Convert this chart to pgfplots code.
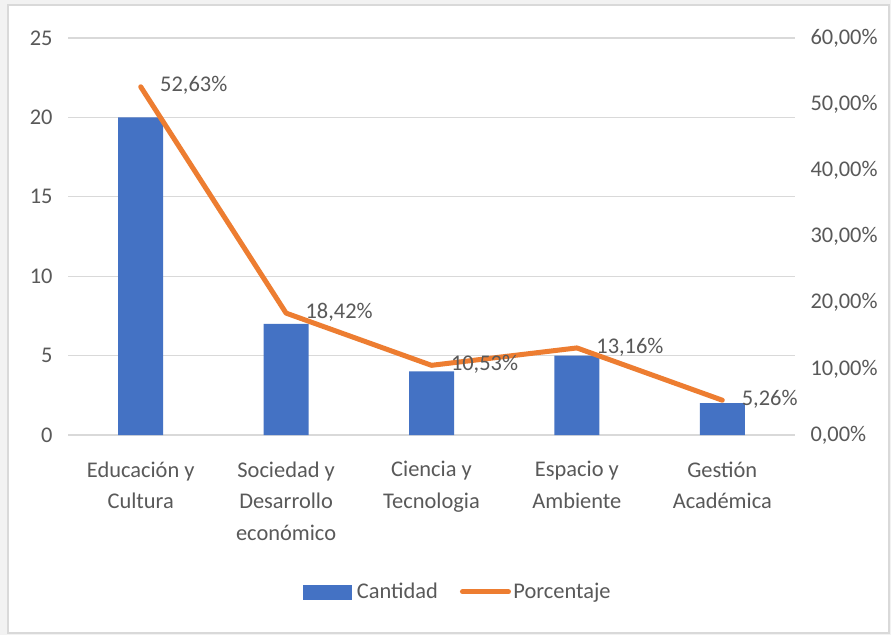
\documentclass[border=0pt]{standalone}
\usepackage{fontspec}
\setmainfont{Carlito}
\usepackage{pgfplots}
\pgfplotsset{compat=1.18}
\definecolor{barblue}{HTML}{4472C4}
\definecolor{lineorange}{HTML}{ED7D31}
\definecolor{txtgray}{HTML}{595959}
\definecolor{gridgray}{HTML}{D9D9D9}
\newcommand{\lbl}{\fontsize{22.5}{32}\selectfont}
\begin{document}
\begin{tikzpicture}
\path[use as bounding box] (-68bp,-200bp) rectangle (823bp,435bp);
\fill[black!5] (-68bp,-200bp) rectangle (823bp,435bp);
\filldraw[fill=white, draw=gridgray, line width=1.5bp] (-60bp,-198bp) rectangle (821bp,430bp);
\begin{axis}[
  at={(0,0)}, anchor=south west,
  scale only axis, width=727bp, height=397bp,
  xmin=-0.5, xmax=4.5, ymin=0, ymax=25,
  ytick={0,5,...,25},
  ymajorgrids, grid style={gridgray, line width=1.3bp},
  axis line style={draw=none}, tick style={draw=none}, major tick length=0pt,
  xtick={0,1,2,3,4},
  xticklabels={{Educación y\\Cultura},{Sociedad y\\Desarrollo\\económico},{Ciencia y\\Tecnologia},{Espacio y\\Ambiente},{Gestión\\Académica}},
  xticklabel style={align=center, text=txtgray, font=\lbl, yshift=-23bp},
  yticklabel style={text=txtgray, font=\lbl, xshift=-12bp},
  /pgf/number format/assume math mode=true,
  ybar, bar width=45bp,
]
\addplot[fill=barblue, draw=none] coordinates {(0,20) (1,7) (2,4) (3,5) (4,2)};
\end{axis}
\begin{axis}[
  at={(0,0)}, anchor=south west,
  scale only axis, width=727bp, height=397bp,
  xmin=-0.5, xmax=4.5, ymin=0, ymax=60,
  axis x line=none, axis y line*=right,
  axis line style={draw=none}, tick style={draw=none}, major tick length=0pt,
  ytick={0,10,...,60},
  yticklabels={{0,00\%},{10,00\%},{20,00\%},{30,00\%},{40,00\%},{50,00\%},{60,00\%}},
  yticklabel style={text=txtgray, font=\lbl, xshift=12bp},
  /pgf/number format/assume math mode=true,
  legend style={at={(axis description cs:0.536,-0.395)}, anchor=center, draw=none, fill=none,
    font=\lbl, text=txtgray, legend columns=2,
    /tikz/every even column/.append style={column sep=20bp}},
  legend cell align=left,
]
\addlegendimage{legend image code/.code={\fill[barblue] (0bp,-7bp) rectangle (48bp,7bp); \path[draw=none,fill=none] (48bp,0bp) -- (52bp,0bp);}}
\addlegendentry{Cantidad}
\addplot[lineorange, line width=5bp, line join=round, line cap=round,
  legend image code/.code={\draw[lineorange, line width=5bp, line cap=round] (2bp,0bp) -- (48bp,0bp); \path[draw=none,fill=none] (48bp,0bp) -- (51bp,0bp);},
  nodes near coords={\pgfmathprintnumber[fixed,fixed zerofill,precision=2,use comma,assume math mode=true]{\pgfplotspointmeta}\%},
  every node near coord/.append style={anchor=west, xshift=16bp, yshift=1bp, text=txtgray, font=\lbl, inner sep=1bp}]
  coordinates {(0,52.63) (1,18.42) (2,10.53) (3,13.16) (4,5.26)};
\addlegendentry{Porcentaje}
\end{axis}
\end{tikzpicture}
\end{document}
